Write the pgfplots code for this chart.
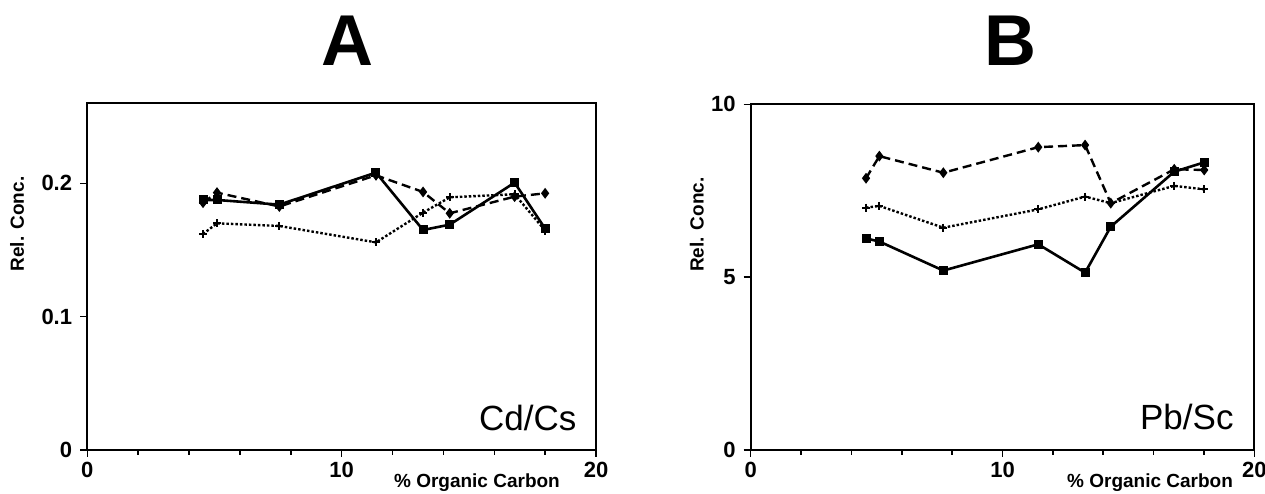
\documentclass[border=0pt]{standalone}
\usepackage{fontspec}
\setmainfont{Liberation Sans}
\usepackage{pgfplots}
\pgfplotsset{compat=1.18}

% x = % organic carbon, one row per sample
\pgfplotstableread{
x     solid   dashed  dotted
4.55  0.1875  0.1855  0.162
5.10  0.1875  0.1930  0.170
7.55  0.1840  0.1826  0.168
11.35 0.2080  0.2060  0.1557
13.20 0.1650  0.1935  0.178
14.25 0.1690  0.1775  0.1895
16.80 0.2005  0.1900  0.1918
18.00 0.1660  0.1925  0.1646
}\cdcs
\pgfplotstableread{
x     solid  dashed  dotted
4.58  6.12   7.86    7.01
5.11  6.03   8.50    7.06
7.65  5.19   8.02    6.43
11.42 5.95   8.76    6.96
13.28 5.13   8.82    7.33
14.30 6.46   7.14    7.14
16.82 8.05   8.12    7.64
18.01 8.32   8.10    7.54
}\pbsc

\pgfplotsset{
  panel/.style={
    scale only axis,
    anchor=south west,
    axis line style={line width=1.8pt},
    xmin=0, xmax=20,
    xtick={0,10,20},
    minor xtick={2,4,6,8,12,14,16,18},
    tick pos=left,
    tick align=outside,
    major tick length=7pt,
    minor tick length=5pt,
    every tick/.style={line width=1.5pt, black},
    ticklabel style={font=\bfseries\fontsize{22}{22}\selectfont, inner sep=0pt},
    xticklabel style={anchor=north, yshift=-5pt},
    yticklabel style={anchor=east, xshift=-8pt},
    label style={font=\bfseries\fontsize{19}{19}\selectfont},
    clip=false,
  },
  solidline/.style={black, line width=2.6pt, mark=square*, mark size=3.2pt},
  dashedline/.style={black, line width=2.4pt, dash pattern=on 9pt off 5pt,
    mark=diamond*, mark size=3.5pt, mark options={solid}},
  dottedline/.style={black, line width=2.4pt, dash pattern=on 2.5pt off 2pt,
    mark=+, mark size=4pt, mark options={solid, line width=2pt}},
}

\begin{document}
\begin{tikzpicture}
\useasboundingbox (0,0) rectangle (1265pt,494pt);

\begin{axis}[panel,
  at={(87.3pt,44pt)}, width=508.7pt, height=346.7pt,
  ymin=0, ymax=0.26,
  ytick={0,0.1,0.2}, yticklabels={0,0.1,0.2},
  xticklabels={0,10,20},
  xlabel={\% Organic Carbon},
  xlabel style={at={(axis description cs:0.766,0)}, anchor=center, yshift=-33pt},
  ylabel={Rel. Conc.},
  ylabel style={at={(axis description cs:-0.138,0.652)}, anchor=center},
]
\addplot[solidline] table[x=x, y=solid] {\cdcs};
\addplot[dashedline] table[x=x, y=dashed] {\cdcs};
\addplot[dottedline] table[x=x, y=dotted] {\cdcs};
\node[font=\fontsize{35}{35}\selectfont] at (rel axis cs:0.866,0.092) {Cd/Cs};
\end{axis}

\begin{axis}[panel,
  at={(750.7pt,44pt)}, width=503.6pt, height=345.7pt,
  ymin=0, ymax=10,
  ytick={0,5,10}, yticklabels={0,5,10},
  xticklabels={0,10,20},
  xlabel={\% Organic Carbon},
  xlabel style={at={(axis description cs:0.793,0)}, anchor=center, yshift=-33pt},
  ylabel={Rel. Conc.},
  ylabel style={at={(axis description cs:-0.107,0.652)}, anchor=center},
]
\addplot[solidline] table[x=x, y=solid] {\pbsc};
\addplot[dashedline] table[x=x, y=dashed] {\pbsc};
\addplot[dottedline] table[x=x, y=dotted] {\pbsc};
\node[font=\fontsize{35}{35}\selectfont] at (rel axis cs:0.866,0.095) {Pb/Sc};
\end{axis}

\node[font=\bfseries\fontsize{72}{72}\selectfont] at (347pt,453pt) {A};
\node[font=\bfseries\fontsize{72}{72}\selectfont] at (1010pt,453pt) {B};
\end{tikzpicture}
\end{document}
